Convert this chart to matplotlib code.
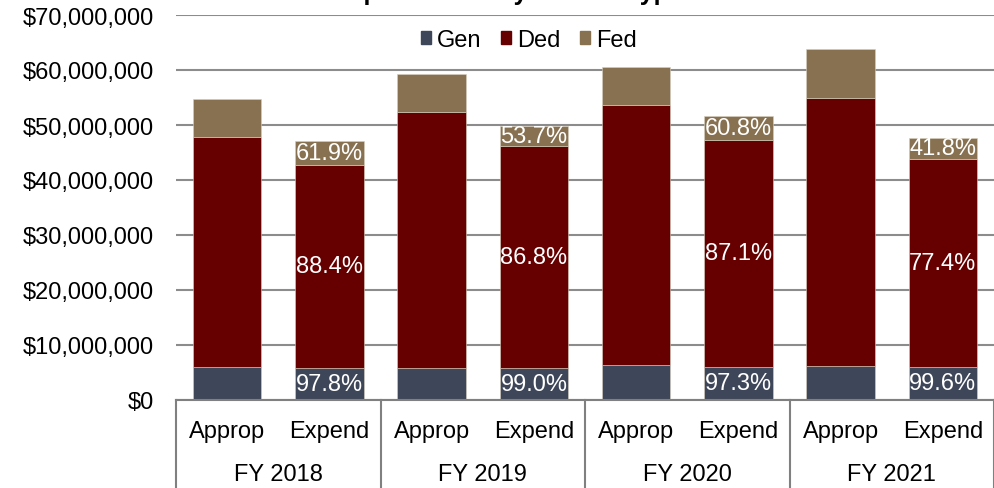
import numpy as np
import matplotlib.pyplot as plt
from matplotlib.patches import Patch
from matplotlib.lines import Line2D
from matplotlib.transforms import blended_transform_factory
from matplotlib.ticker import FuncFormatter

plt.rcParams['font.family'] = ['Liberation Sans', 'DejaVu Sans']

years = ['FY 2018', 'FY 2019', 'FY 2020', 'FY 2021']
kinds = ['Approp', 'Expend']
series = ['Gen', 'Ded', 'Fed']
colors = ['#3E4659', '#660000', '#877150']

# segment sizes in millions of dollars, order: Approp/Expend per year
gen = [6.0, 5.9, 5.9, 5.9, 6.4, 6.05, 6.2, 6.0]
ded = [41.76, 36.9, 46.5, 40.3, 47.3, 41.25, 48.8, 37.9]
fed = [6.94, 4.3, 6.9, 3.7, 6.9, 4.3, 8.9, 3.7]

# percent labels shown on the Expend bars
gen_pct = ['97.8%', '99.0%', '97.3%', '99.6%']
ded_pct = ['88.4%', '86.8%', '87.1%', '77.4%']
fed_pct = ['61.9%', '53.7%', '60.8%', '41.8%']

fig = plt.figure(figsize=(9.94, 4.89), dpi=100)
ax = fig.add_axes([176/994, 88/489, 1 - 176/994, 385/489])

x = np.arange(len(gen))
vals = [np.array(gen) * 1e6, np.array(ded) * 1e6, np.array(fed) * 1e6]
bottom = np.zeros(len(gen))
for v, c, name in zip(vals, colors, series):
    ax.bar(x, v, 0.67, bottom=bottom, color=c, edgecolor='#d8d0c0',
           linewidth=0.4, label=name, zorder=3)
    bottom += v

# percent labels inside Expend segments
fs = 17
for i, xi in enumerate(x[1::2]):
    g, d, f = vals[0][xi], vals[1][xi], vals[2][xi]
    ax.text(xi, g / 2, gen_pct[i], ha='center', va='center', color='white', fontsize=fs, zorder=4)
    ax.text(xi, g + d / 2, ded_pct[i], ha='center', va='center', color='white', fontsize=fs, zorder=4)
    ax.text(xi, g + d + f / 2, fed_pct[i], ha='center', va='center', color='white', fontsize=fs, zorder=4)

ax.set_ylim(0, 70e6)
ax.set_xlim(-0.5, 7.5)
ax.set_yticks(np.arange(0, 70e6 + 1, 10e6))
ax.yaxis.set_major_formatter(FuncFormatter(lambda v, p: f'${v:,.0f}'))
ax.tick_params(axis='y', length=0, pad=16, labelsize=fs)
ax.set_xticks([])
ax.grid(axis='y', color='#8C8C8C', linewidth=1.5, zorder=0)
for s in ax.spines.values():
    s.set_visible(False)

# two-level category axis
tr = blended_transform_factory(ax.transData, ax.transAxes)
for i, xi in enumerate(x):
    ax.text(xi, -31/385, kinds[i % 2], transform=tr, ha='center', va='center', fontsize=fs)
for j, yr in enumerate(years):
    ax.text(2*j + 0.5, -74/385, yr, transform=tr, ha='center', va='center', fontsize=fs)
for b in [-0.5, 1.5, 3.5, 5.5, 7.5]:
    ax.add_line(Line2D([b, b], [0, -0.24], transform=tr, color='#808080', linewidth=1.5, clip_on=False))
ax.add_line(Line2D([-0.5, 7.5], [0, 0], transform=tr, color='#808080', linewidth=1.5, clip_on=False, zorder=5))

handles = [Patch(color=c) for c in colors]
fig.legend(handles, series, loc='center', bbox_to_anchor=(0.532, 0.916), ncol=3, frameon=False,
           fontsize=fs, handlelength=0.45, handleheight=0.45, handletextpad=0.25, columnspacing=0.8)

# title is cut off at the top edge of the picture, as in the reference
fig.text(333/994, 1.0, 'Expenditures by Source Type', fontweight='bold', fontsize=18,
         ha='left', va='baseline')

fig.savefig('out.png', dpi=100)
